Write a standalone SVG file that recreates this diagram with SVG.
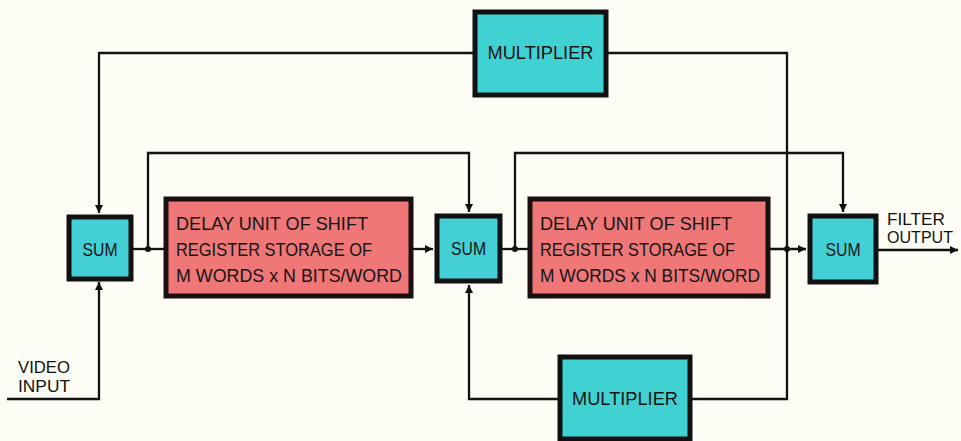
<svg xmlns="http://www.w3.org/2000/svg" width="961" height="441" viewBox="0 0 961 441">
<defs>
<style>
.bg{fill:#fdfdf6}
.sum{fill:#42cfd6;stroke:#111;stroke-width:5}
.mul{fill:#40d2d2;stroke:#111;stroke-width:5}
.dly{fill:#ef7777;stroke:#1a1010;stroke-width:5}
.w{fill:none;stroke:#111;stroke-width:2.3}
.t{font-family:"Liberation Sans","DejaVu Sans",sans-serif;font-size:18px;fill:#141414}
.lbl{font-family:"Liberation Sans","DejaVu Sans",sans-serif;font-size:17px;fill:#111}
.dot{fill:#111}
</style>
<marker id="ah" viewBox="0 0 10 10" refX="10" refY="5" markerWidth="9" markerHeight="8" markerUnits="userSpaceOnUse" orient="auto">
<path d="M0,0 L10,5 L0,10 Z" fill="#111"/>
</marker>
</defs>
<rect class="bg" x="0" y="0" width="961" height="441"/>
<g id="connectors">
<path class="w" d="M473,53 H99 V213" marker-end="url(#ah)"/>
<path class="w" d="M7,399 H99 V282" marker-end="url(#ah)"/>
<path class="w" d="M133,249 H164"/>
<path class="w" d="M148,249 V153 H469 V212" marker-end="url(#ah)"/>
<path class="w" d="M413,249 H433" marker-end="url(#ah)"/>
<path class="w" d="M558,399 H469 V285" marker-end="url(#ah)"/>
<path class="w" d="M502,249 H528"/>
<path class="w" d="M515,249 V153 H843 V212" marker-end="url(#ah)"/>
<path class="w" d="M770,249 H806" marker-end="url(#ah)"/>
<path class="w" d="M608,53 H787 V399 H692"/>
<path class="w" d="M878,250 H958" marker-end="url(#ah)"/>
<circle class="dot" cx="148" cy="249" r="3"/>
<circle class="dot" cx="515" cy="249" r="3"/>
<circle class="dot" cx="787" cy="249" r="3"/>
</g>
<g id="mult-top">
<rect class="mul" x="475" y="12" width="131" height="83"/>
<text class="t" x="540.5" y="59" text-anchor="middle" textLength="106" lengthAdjust="spacingAndGlyphs">MULTIPLIER</text>
</g>
<g id="mult-bottom">
<rect class="mul" x="560" y="357" width="130" height="82"/>
<text class="t" x="625" y="405" text-anchor="middle" textLength="106" lengthAdjust="spacingAndGlyphs">MULTIPLIER</text>
</g>
<g id="sum1">
<rect class="sum" x="69" y="217" width="62" height="62"/>
<text class="t" x="100" y="256" text-anchor="middle" textLength="35" lengthAdjust="spacingAndGlyphs">SUM</text>
</g>
<g id="sum2">
<rect class="sum" x="437" y="216" width="63" height="65"/>
<text class="t" x="468.5" y="255" text-anchor="middle" textLength="35" lengthAdjust="spacingAndGlyphs">SUM</text>
</g>
<g id="sum3">
<rect class="sum" x="810" y="216" width="66" height="66"/>
<text class="t" x="843" y="256" text-anchor="middle" textLength="35" lengthAdjust="spacingAndGlyphs">SUM</text>
</g>
<g id="delay1">
<rect class="dly" x="166" y="199" width="245" height="97"/>
<text class="t" x="176" y="230" textLength="192" lengthAdjust="spacingAndGlyphs">DELAY UNIT OF SHIFT</text>
<text class="t" x="176" y="256" textLength="196" lengthAdjust="spacingAndGlyphs">REGISTER STORAGE OF</text>
<text class="t" x="176" y="282" textLength="226" lengthAdjust="spacingAndGlyphs">M WORDS x N BITS/WORD</text>
</g>
<g id="delay2">
<rect class="dly" x="530" y="199" width="238" height="97"/>
<text class="t" x="540" y="230" textLength="192" lengthAdjust="spacingAndGlyphs">DELAY UNIT OF SHIFT</text>
<text class="t" x="540" y="256" textLength="195" lengthAdjust="spacingAndGlyphs">REGISTER STORAGE OF</text>
<text class="t" x="540" y="282" textLength="220" lengthAdjust="spacingAndGlyphs">M WORDS x N BITS/WORD</text>
</g>
<g id="video-input">
<text class="lbl" x="18" y="373" textLength="52" lengthAdjust="spacingAndGlyphs">VIDEO</text>
<text class="lbl" x="18" y="392" textLength="52" lengthAdjust="spacingAndGlyphs">INPUT</text>
</g>
<g id="filter-output">
<text class="lbl" x="887" y="225" textLength="58" lengthAdjust="spacingAndGlyphs">FILTER</text>
<text class="lbl" x="887" y="243" textLength="66" lengthAdjust="spacingAndGlyphs">OUTPUT</text>
</g>
</svg>
